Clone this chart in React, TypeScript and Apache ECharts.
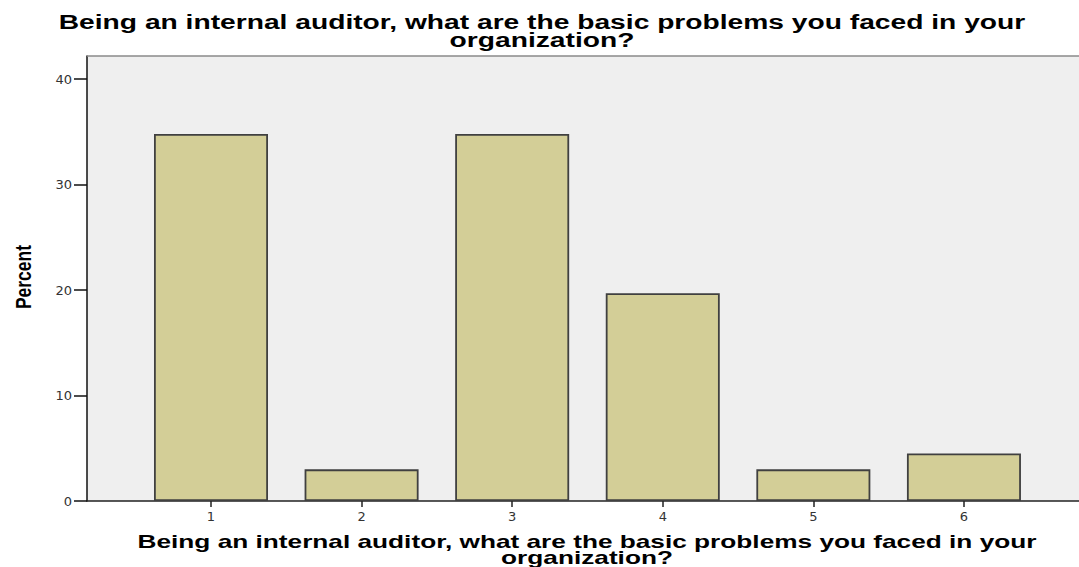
import React, { useEffect, useRef } from "react";
import * as echarts from "echarts";

const categories = [1, 2, 3, 4, 5, 6];
const percents = [34.8, 3.0, 34.8, 19.7, 3.0, 4.5];
const yTicks = [0, 10, 20, 30, 40];
const titleLines = [
  "Being an internal auditor, what are the basic problems you faced in your",
  "organization?",
];
const xNameLines = [
  "Being an internal auditor, what are the basic problems you faced in your",
  "organization?",
];
const yName = "Percent";

export default function App() {
  const ref = useRef<HTMLDivElement>(null);
  useEffect(() => {
    if (!ref.current) return;
    const chart = echarts.init(ref.current, null, { renderer: "svg" });
    const font = "'Liberation Sans', Arial, sans-serif";
    const textEl = (text: string, x: number, y: number, size: number, sx: number) => ({
      type: "text",
      x,
      y,
      scaleX: sx,
      z: 100,
      style: {
        text,
        fill: "#000",
        font: `bold ${size}px ${font}`,
        textAlign: "center",
        textVerticalAlign: "middle",
      },
    });
    chart.setOption({
      animation: false,
      backgroundColor: "#ffffff",
      grid: {
        left: 87,
        right: 0,
        top: 56,
        bottom: 66,
        show: true,
        backgroundColor: "#EFEFEF",
        borderWidth: 0,
      },
      xAxis: {
        type: "value",
        min: 0.1766,
        max: 6.764,
        axisLine: { show: true, onZero: false, lineStyle: { color: "#222", width: 1.5 } },
        axisTick: { show: true, customValues: categories, length: 6, lineStyle: { color: "#222", width: 1.5 } },
        axisLabel: {
          show: true,
          customValues: categories,
          margin: 9,
          fontFamily: "'DejaVu Sans', sans-serif",
          fontSize: 13,
          color: "#333",
          formatter: (v: number) => String(v),
        },
        splitLine: { show: false },
      },
      yAxis: {
        type: "value",
        min: 0,
        max: 42.2,
        axisLine: { show: true, lineStyle: { color: "#111", width: 1.5 } },
        axisTick: { show: true, customValues: yTicks, length: 13, lineStyle: { color: "#111", width: 1.5 } },
        axisLabel: {
          show: true,
          customValues: yTicks,
          margin: 15,
          fontFamily: "'DejaVu Sans', sans-serif",
          fontSize: 13,
          color: "#333",
        },
        splitLine: { show: false },
      },
      series: [
        {
          type: "bar",
          data: categories.map((c, i) => [c, percents[i]]),
          barWidth: 114,
          itemStyle: {
            color: "#D3CE97",
            borderColor: "#404040",
            borderWidth: 1.8,
          },
        },
      ],
      graphic: [
        {
          type: "line",
          z: 50,
          shape: { x1: 87, y1: 56, x2: 1079, y2: 56 },
          style: { stroke: "#8a8a8a", lineWidth: 1.5 },
        },
        textEl(titleLines[0], 542, 22, 20, 1.41),
        textEl(titleLines[1], 542, 40, 20, 1.41),
        textEl(xNameLines[0], 587, 541, 18.5, 1.418),
        textEl(xNameLines[1], 587, 557, 18.5, 1.418),
        {
          type: "text",
          x: 23,
          y: 277,
          rotation: Math.PI / 2,
          scaleY: 1.3,
          z: 100,
          style: {
            text: yName,
            fill: "#000",
            font: `bold 17.5px ${font}`,
            textAlign: "center",
            textVerticalAlign: "middle",
          },
        },
      ],
    });
    return () => chart.dispose();
  }, []);
  return (
    <div
      ref={ref}
      style={{ position: "fixed", left: 0, top: 0, width: 1079, height: 567 }}
    />
  );
}
